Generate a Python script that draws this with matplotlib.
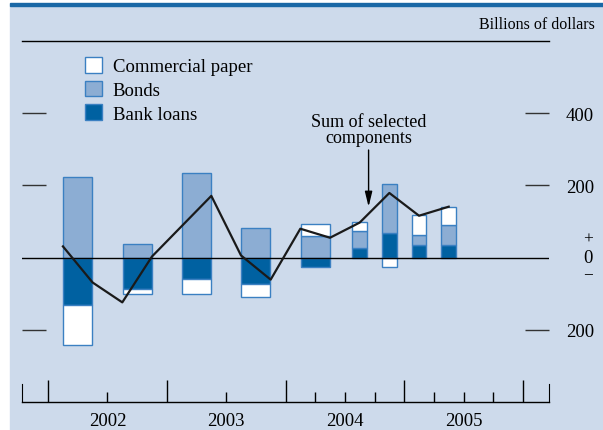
import matplotlib
matplotlib.use('Agg')
import matplotlib.pyplot as plt
from matplotlib.patches import Patch, Rectangle
import numpy as np

plt.rcParams['font.family'] = ['Liberation Serif', 'DejaVu Serif']

# bars: half-years for 2002-2004H1, then quarters
bar_x = [2002.25, 2002.75, 2003.25, 2003.75, 2004.25, 2004.625, 2004.875, 2005.125, 2005.375]
bar_w = [0.245, 0.245, 0.245, 0.245, 0.245, 0.125, 0.125, 0.125, 0.125]
bank_loans = [-131, -88, -59, -74, -26, 26, 68, 36, 36]
bonds = [223, 38, 233, 82, 60, 49, 137, 26, 55]
comm_paper = [-110, -14, -42, -34, 33, 23, -26, 55, 50]

# sum of selected components, quarterly
sum_x = [2002 + (i + 0.5) / 4 for i in range(14)]
sum_y = [31, -69, -124, 3, 87, 171, 6, -61, 80, 55, 97, 179, 116, 141]

years = ['2002', '2003', '2004', '2005']

bg = '#cddaeb'
c_bonds = '#8cadd3'
c_loans = '#0061a1'
c_edge = '#3b80c2'

fig = plt.figure(figsize=(6.03, 4.31), dpi=100)
fig.patches.append(Rectangle((10 / 603, 0), 1, 1 - 7 / 431, transform=fig.transFigure,
                             color=bg, zorder=-10))
fig.patches.append(Rectangle((10 / 603, 1 - 7 / 431), 1, 3 / 431, transform=fig.transFigure,
                             color='#1a68a6', zorder=-10))

ax = fig.add_axes([22 / 603, 1 - 403 / 431, 527 / 603, 361 / 431])
ax.set_facecolor('none')

pos = np.zeros(len(bar_x))
neg = np.zeros(len(bar_x))
for vals, col in [(bank_loans, c_loans), (bonds, c_bonds), (comm_paper, 'white')]:
    vals = np.array(vals, dtype=float)
    bottoms = np.where(vals >= 0, pos, neg)
    ax.bar(bar_x, vals, width=bar_w, bottom=bottoms, color=col,
           edgecolor=c_edge, linewidth=1, zorder=2)
    pos = np.where(vals >= 0, pos + vals, pos)
    neg = np.where(vals < 0, neg + vals, neg)

ax.axhline(0, color='black', lw=1, zorder=3)
ax.plot(sum_x, sum_y, color='#1a1a1a', lw=1.6, zorder=4)

ax.set_xlim(2001.78, 2006.22)
ax.set_ylim(-400, 600)

for s in ['left', 'right']:
    ax.spines[s].set_bounds(-400, -350)
ax.spines['top'].set_linewidth(1)
ax.spines['bottom'].set_linewidth(1)

ax.set_yticks([-200, 200, 400])
ax.set_yticklabels(['200', '200', '400'])
ax.tick_params(axis='y', direction='in', length=17, width=1, color='#333333',
               left=True, right=True, labelleft=False, labelright=True,
               labelsize=13.5, pad=12)

ax.set_xticks([2002, 2003, 2004, 2005, 2006])
ax.set_xticklabels([])
ax.tick_params(axis='x', which='major', direction='in', length=16, width=1)
ax.set_xticks([2002.5, 2003.5, 2004.25, 2004.5, 2004.75, 2005.25, 2005.5, 2005.75], minor=True)
ax.set_xticklabels(['2002', '2003', '', '2004', '', '', '2005', ''], minor=True)
ax.tick_params(axis='x', which='minor', direction='in', length=7, width=1,
               labelsize=13.5, pad=7)

ytr = ax.get_yaxis_transform()
ax.text(1.074, 0, '0', transform=ytr, ha='center', va='center', fontsize=13.5)
ax.text(1.074, 52, '+', transform=ytr, ha='center', va='center', fontsize=12.5)
ax.text(1.074, -47, '\u2212', transform=ytr, ha='center', va='center', fontsize=12.5)

fig.text(595 / 603, 1 - 25 / 431, 'Billions of dollars', ha='right', va='center', fontsize=11.5)

ax.text(2004.70, 310, 'Sum of selected\ncomponents', ha='center', va='bottom',
        fontsize=13, linespacing=0.92)
ax.annotate('', xy=(2004.70, 141), xytext=(2004.70, 298),
            arrowprops=dict(arrowstyle='-|>,head_length=0.9,head_width=0.22',
                            color='black', lw=1, mutation_scale=10, shrinkA=0, shrinkB=0))

handles = [Patch(facecolor='white', edgecolor=c_edge, lw=1),
           Patch(facecolor=c_bonds, edgecolor=c_edge, lw=1),
           Patch(facecolor=c_loans, edgecolor=c_edge, lw=1)]
fig.legend(handles, ['Commercial paper', 'Bonds', 'Bank loans'], loc='upper left',
           bbox_to_anchor=(85 / 603, 1 - 58 / 431), frameon=False, fontsize=13.5,
           handlelength=0.92, handleheight=0.92, handletextpad=0.55,
           labelspacing=0.28, borderpad=0, borderaxespad=0)

fig.savefig('out.png', dpi=100, facecolor='white')
